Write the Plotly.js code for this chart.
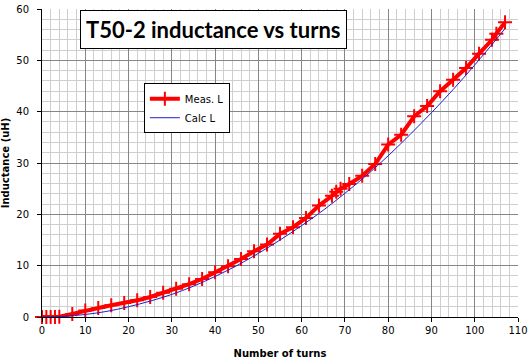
<!DOCTYPE html>
<html>
<head>
<meta charset="utf-8">
<script src="https://cdn.plot.ly/plotly-3.0.1.min.js"></script>
<style>html,body{margin:0;padding:0;background:#fff;}#chart{width:531px;height:363px;}</style>
</head>
<body>
<div id="chart"></div>
<script>
// Measured inductance
const measTurns = [0, 1, 2, 3, 4, 7, 10, 13, 16, 19, 22, 25, 28, 31, 34, 37, 40, 43, 46, 49, 52, 55, 58, 61, 64, 67, 68, 69, 71, 74, 77, 80, 83, 86, 89, 92, 95, 98, 101, 104, 105, 107];
const measL = [0, 0, 0, 0, 0.05, 0.6, 1.25, 1.75, 2.3, 2.75, 3.25, 3.9, 4.7, 5.5, 6.4, 7.4, 8.7, 9.9, 11.3, 12.8, 14.1, 16.2, 17.5, 19.3, 21.7, 23.6, 24.4, 25.0, 25.9, 27.5, 29.8, 33.6, 35.5, 39.1, 41.1, 44.0, 46.2, 48.5, 51.3, 54.0, 55.2, 57.4];
// Calculated inductance
const calcTurns = [0, 5, 10, 15, 20, 25, 30, 35, 40, 45, 50, 55, 60, 65, 70, 75, 80, 85, 90, 95, 100, 105, 107];
const calcL = [0, 0.12, 0.49, 1.1, 2.0, 3.1, 4.4, 6.0, 7.9, 10.0, 12.4, 15.0, 17.8, 20.8, 24.1, 27.6, 31.4, 35.5, 39.8, 44.3, 49.1, 54.1, 56.2];

const chartTitle = "T50-2 inductance vs turns";
const xTitle = "Number of turns";
const yTitle = "Inductance (uH)";
const measName = "Meas. L";
const calcName = "Calc L";

const tickFont = {family: "DejaVu Sans", size: 10, color: "#000"};
const titleFont = {family: "DejaVu Sans", size: 10, color: "#000", weight: "bold"};

const traces = [
  {
    x: measTurns, y: measL, name: measName, type: "scatter", mode: "lines+markers",
    cliponaxis: false,
    line: {color: "#ff0000", width: 4},
    marker: {symbol: "cross-thin", size: 10, color: "#ff0000", line: {color: "#ff0000", width: 2}}
  },
  {
    x: calcTurns, y: calcL, name: calcName, type: "scatter", mode: "lines",
    line: {color: "#2020c8", width: 1, shape: "spline"}
  }
];

const layout = {
  width: 531, height: 363,
  margin: {l: 42, r: 13, t: 9, b: 46},
  paper_bgcolor: "#fff", plot_bgcolor: "#fff",
  showlegend: true,
  legend: {
    x: 0.214, y: 0.759, xanchor: "left", yanchor: "top",
    bgcolor: "#fff", bordercolor: "#000", borderwidth: 1,
    font: {family: "DejaVu Sans", size: 10, color: "#000"},
    itemwidth: 30, tracegroupgap: 0
  },
  xaxis: {
    range: [0, 110], dtick: 10, tick0: 0,
    showline: true, linecolor: "#000", linewidth: 1,
    ticks: "outside", ticklen: 4, tickcolor: "#000",
    showgrid: true, gridcolor: "#868686", gridwidth: 1,
    minor: {dtick: 2, showgrid: true, gridcolor: "#cfcfcf", gridwidth: 1, ticks: ""},
    zeroline: false, tickfont: tickFont,
    title: {text: xTitle, font: titleFont, standoff: 14}
  },
  yaxis: {
    range: [0, 60], dtick: 10, tick0: 0,
    showline: true, linecolor: "#000", linewidth: 1,
    ticks: "outside", ticklen: 4, tickcolor: "#000",
    showgrid: true, gridcolor: "#868686", gridwidth: 1,
    minor: {dtick: 2, showgrid: true, gridcolor: "#cfcfcf", gridwidth: 1, ticks: ""},
    zeroline: false, tickfont: tickFont, ticklabelstandoff: 6,
    title: {text: yTitle, font: titleFont, standoff: 6}
  },
  annotations: [{
    text: chartTitle, xref: "paper", yref: "paper",
    x: 0.361, y: 0.935, xanchor: "center", yanchor: "middle",
    showarrow: false, bgcolor: "#fff", bordercolor: "#000", borderwidth: 1, borderpad: 5,
    font: {family: "Lato", size: 22, color: "#000", weight: "bold"}
  }]
};

Plotly.newPlot("chart", traces, layout, {displayModeBar: false, staticPlot: true});
</script>
</body>
</html>
